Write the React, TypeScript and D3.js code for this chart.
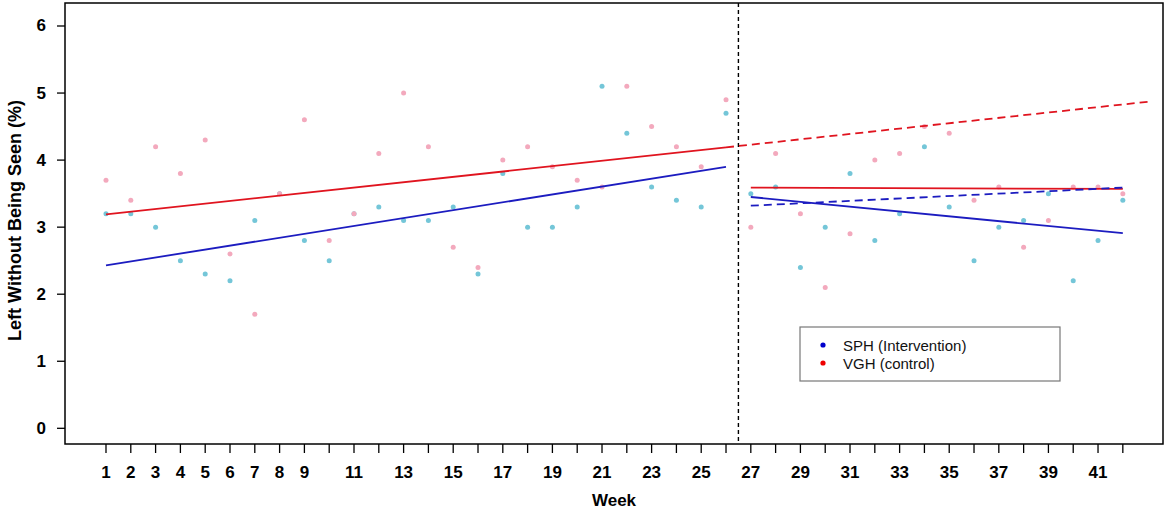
import { useEffect, useRef } from "react";
import * as d3 from "d3";

// ── Data ────────────────────────────────────────────────────────────────
const WEEKS = d3.range(1, 43);

// SPH (intervention) weekly LWBS %
const SPH = [
  3.2, 3.2, 3.0, 2.5, 2.3, 2.2, 3.1, 3.5, 2.8, 2.5, 3.2, 3.3, 3.1, 3.1,
  3.3, 2.3, 3.8, 3.0, 3.0, 3.3, 5.1, 4.4, 3.6, 3.4, 3.3, 4.7, 3.5, 3.6,
  2.4, 3.0, 3.8, 2.8, 3.2, 4.2, 3.3, 2.5, 3.0, 3.1, 3.5, 2.2, 2.8, 3.4,
];

// VGH (control) weekly LWBS %
const VGH = [
  3.7, 3.4, 4.2, 3.8, 4.3, 2.6, 1.7, 3.5, 4.6, 2.8, 3.2, 4.1, 5.0, 4.2,
  2.7, 2.4, 4.0, 4.2, 3.9, 3.7, 3.6, 5.1, 4.5, 4.2, 3.9, 4.9, 3.0, 4.1,
  3.2, 2.1, 2.9, 4.0, 4.1, 4.5, 4.4, 3.4, 3.6, 2.7, 3.1, 3.6, 3.6, 3.5,
];

// Fitted segments: [week start, value start, week end, value end]
const TRENDS = [
  { site: "VGH", dashed: true,  seg: [26, 4.19, 43, 4.87] },
  { site: "VGH", dashed: false, seg: [1, 3.19, 26, 4.19] },
  { site: "SPH", dashed: false, seg: [1, 2.43, 26, 3.9] },
  { site: "VGH", dashed: false, seg: [27, 3.59, 42, 3.57] },
  { site: "SPH", dashed: false, seg: [27, 3.45, 42, 2.91] },
  { site: "SPH", dashed: true,  seg: [27, 3.32, 42, 3.59] },
];

const Y_TICKS = [0, 1, 2, 3, 4, 5, 6];
const X_LABELS = [1, 2, 3, 4, 5, 6, 7, 8, 9, 11, 13, 15, 17, 19, 21, 23, 25, 27, 29, 31, 33, 35, 37, 39, 41];
const BREAK_WEEK = 26.5;

const LEGEND = [
  { label: "SPH (Intervention)", color: "#0000cc" },
  { label: "VGH (control)", color: "#ee0000" },
];

const W = 1167;
const H = 512;
const FRAME = { left: 65, right: 1163, top: 3, bottom: 444 };
const FONT = "'Liberation Sans', Arial, sans-serif";

const POINT_COLOR = { SPH: "#74c6d8", VGH: "#f3a9bd" };
const LINE_COLOR = { SPH: "#1c1cc0", VGH: "#e0141f" };

export default function App() {
  const svgRef = useRef<SVGSVGElement>(null);

  useEffect(() => {
    if (!svgRef.current) return;
    const svg = d3.select(svgRef.current);
    svg.selectAll("*").remove();

    const x = d3.scaleLinear().domain([-0.653, 43.62]).range([FRAME.left, FRAME.right]);
    const y = d3.scaleLinear().domain([-0.234, 6.343]).range([FRAME.bottom, FRAME.top]);

    // ── Frame ────────────────────────────────────────────────────────────
    svg.append("rect")
      .attr("x", FRAME.left).attr("y", FRAME.top)
      .attr("width", FRAME.right - FRAME.left)
      .attr("height", FRAME.bottom - FRAME.top)
      .attr("fill", "none")
      .attr("stroke", "#000")
      .attr("stroke-width", 1.5);

    // ── Y axis ───────────────────────────────────────────────────────────
    const yAxis = svg.append("g");
    Y_TICKS.forEach((t) => {
      yAxis.append("line")
        .attr("x1", FRAME.left - 8).attr("x2", FRAME.left)
        .attr("y1", y(t)).attr("y2", y(t))
        .attr("stroke", "#000").attr("stroke-width", 1.3);
      yAxis.append("text")
        .attr("x", FRAME.left - 19)
        .attr("y", y(t))
        .attr("text-anchor", "end")
        .attr("dominant-baseline", "central")
        .attr("font-family", FONT)
        .attr("font-weight", "bold")
        .attr("font-size", 17)
        .text(t);
    });

    svg.append("text")
      .attr("transform", `translate(15,${(FRAME.top + FRAME.bottom) / 2 - 3}) rotate(-90)`)
      .attr("text-anchor", "middle")
      .attr("dominant-baseline", "central")
      .attr("font-family", FONT)
      .attr("font-weight", "bold")
      .attr("font-size", 18)
      .text("Left Without Being Seen (%)");

    // ── X axis ───────────────────────────────────────────────────────────
    const xAxis = svg.append("g");
    WEEKS.forEach((w) => {
      xAxis.append("line")
        .attr("x1", x(w)).attr("x2", x(w))
        .attr("y1", FRAME.bottom).attr("y2", FRAME.bottom + 9)
        .attr("stroke", "#000").attr("stroke-width", 1.3);
    });
    X_LABELS.forEach((w) => {
      xAxis.append("text")
        .attr("x", x(w))
        .attr("y", 472)
        .attr("text-anchor", "middle")
        .attr("dominant-baseline", "central")
        .attr("font-family", FONT)
        .attr("font-weight", "bold")
        .attr("font-size", 17)
        .text(w);
    });

    svg.append("text")
      .attr("x", (FRAME.left + FRAME.right) / 2)
      .attr("y", 500)
      .attr("text-anchor", "middle")
      .attr("dominant-baseline", "central")
      .attr("font-family", FONT)
      .attr("font-weight", "bold")
      .attr("font-size", 17)
      .text("Week");

    // ── Points ───────────────────────────────────────────────────────────
    const pts = svg.append("g");
    [
      { site: "SPH", vals: SPH },
      { site: "VGH", vals: VGH },
    ].forEach(({ site, vals }) => {
      pts.selectAll(`circle.${site}`)
        .data(vals)
        .enter()
        .append("circle")
        .attr("class", site)
        .attr("cx", (_, i) => x(WEEKS[i]))
        .attr("cy", (d) => y(d))
        .attr("r", 2.5)
        .attr("fill", POINT_COLOR[site as "SPH" | "VGH"]);
    });

    // ── Intervention break ───────────────────────────────────────────────
    svg.append("line")
      .attr("x1", x(BREAK_WEEK)).attr("x2", x(BREAK_WEEK))
      .attr("y1", FRAME.top).attr("y2", FRAME.bottom)
      .attr("stroke", "#000")
      .attr("stroke-width", 1.4)
      .attr("stroke-dasharray", "4,3");

    // ── Trend lines ──────────────────────────────────────────────────────
    const line = d3.line<[number, number]>().x((d) => x(d[0])).y((d) => y(d[1]));
    TRENDS.forEach(({ site, dashed, seg }) => {
      svg.append("path")
        .attr("d", line([[seg[0], seg[1]], [seg[2], seg[3]]]))
        .attr("fill", "none")
        .attr("stroke", LINE_COLOR[site as "SPH" | "VGH"])
        .attr("stroke-width", 1.8)
        .attr("stroke-dasharray", dashed ? "8,5" : null);
    });

    // ── Legend ───────────────────────────────────────────────────────────
    const lg = svg.append("g").attr("transform", "translate(800,327)");
    lg.append("rect")
      .attr("width", 260).attr("height", 54)
      .attr("fill", "#fff")
      .attr("stroke", "#777")
      .attr("stroke-width", 1.2);
    LEGEND.forEach((item, i) => {
      lg.append("circle")
        .attr("cx", 23).attr("cy", 18 + i * 18)
        .attr("r", 2.6)
        .attr("fill", item.color);
      lg.append("text")
        .attr("x", 43).attr("y", 18 + i * 18)
        .attr("dominant-baseline", "central")
        .attr("font-family", FONT)
        .attr("font-size", 15)
        .attr("fill", "#111")
        .text(item.label);
    });
  }, []);

  return (
    <div style={{ position: "absolute", left: 0, top: 0, background: "#fff" }}>
      <svg ref={svgRef} width={W} height={H} style={{ display: "block" }} />
    </div>
  );
}
